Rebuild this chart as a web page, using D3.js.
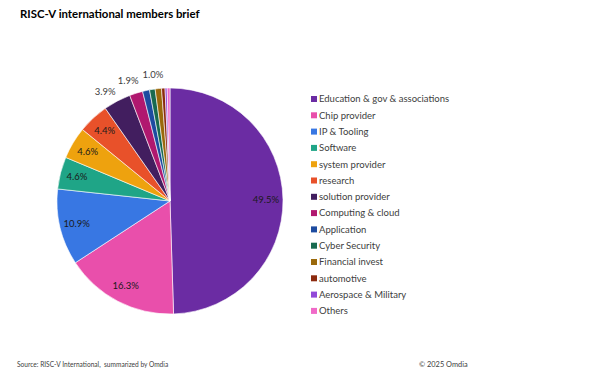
<!DOCTYPE html>
<html>
<head>
<meta charset="utf-8">
<script src="https://cdn.jsdelivr.net/npm/d3@7"></script>
<style>
  body { margin: 0; background: #fff; }
  svg { display: block; font-family: Lato, "Open Sans", sans-serif; }
</style>
</head>
<body>
<svg></svg>
<script>
// Chart size
const width = 615;
const height = 382;

// Data (percent of members)
const categories = [
  "Education & gov & associations", "Chip provider", "IP & Tooling", "Software",
  "system provider", "research", "solution provider", "Computing & cloud",
  "Application", "Cyber Security", "Financial invest", "automotive",
  "Aerospace & Military", "Others"
];
const shares = [49.5, 16.3, 10.9, 4.6, 4.6, 4.4, 3.9, 1.9, 1.0, 0.8, 0.9, 0.5, 0.3, 0.4];
const colors = [
  "#6b2ca3", "#e94fab", "#3877e3", "#1fa587", "#eea20e", "#e8512a", "#421e5f",
  "#b0186f", "#1d4ba0", "#186a50", "#9a690c", "#8c2a0f", "#9249d8", "#f06ac8"
];

const svg = d3.select("svg")
  .attr("width", width)
  .attr("height", height);

// Title
svg.append("text")
  .attr("x", 20)
  .attr("y", 18)
  .style("font-size", "11.4px")
  .style("font-weight", "bold")
  .attr("fill", "#000")
  .text("RISC-V international members brief");

// Pie
const cx = 170, cy = 201, radius = 113;
const pie = d3.pie().sort(null).value(d => d);
const arcs = pie(shares);
const arc = d3.arc().innerRadius(0).outerRadius(radius);

const g = svg.append("g").attr("transform", `translate(${cx},${cy})`);

g.selectAll("path")
  .data(arcs)
  .join("path")
  .attr("d", arc)
  .attr("fill", (d, i) => colors[i])
  .attr("stroke", "#fff")
  .attr("stroke-width", 0.6);

// Data labels: big slices inside, small ones outside
const labelled = arcs.filter(d => d.data >= 1.0);
labelled.forEach(d => {
  d.inside = d.data >= 4.4;
  d.labelAngle = (d.startAngle + d.endAngle) / 2;
});

// spread the outside labels apart so they don't collide
const outside = labelled.filter(d => !d.inside);
const minSep = 11.5 * Math.PI / 180;
for (let k = 0; k < 100; k++) {
  for (let i = 0; i < outside.length - 1; i++) {
    const gap = outside[i + 1].labelAngle - outside[i].labelAngle;
    if (gap < minSep) {
      const push = (minSep - gap) / 2;
      outside[i].labelAngle -= push;
      outside[i + 1].labelAngle += push;
    }
  }
}

g.selectAll("text.lbl")
  .data(labelled)
  .join("text")
  .attr("class", "lbl")
  .attr("text-anchor", "middle")
  .attr("dy", "0.35em")
  .style("font-size", "9.5px")
  .attr("fill", d => d.inside ? "#1a1a1a" : "#404040")
  .attr("transform", d => {
    const a = d.labelAngle;
    const r = d.inside ? radius * 0.85 : radius + 14;
    return `translate(${Math.sin(a) * r},${-Math.cos(a) * r})`;
  })
  .text(d => d.data.toFixed(1) + "%");

// Legend
const legendX = 311, legendY = 99, legendStep = 16.3, sq = 6;
const legend = svg.append("g")
  .selectAll("g")
  .data(categories)
  .join("g")
  .attr("transform", (d, i) => `translate(${legendX},${legendY + i * legendStep})`);

legend.append("rect")
  .attr("x", 0)
  .attr("y", -sq / 2)
  .attr("width", sq)
  .attr("height", sq)
  .attr("fill", (d, i) => colors[i]);

legend.append("text")
  .attr("x", 8)
  .attr("dy", "0.35em")
  .style("font-size", "9.5px")
  .attr("fill", "#404040")
  .text(d => d);

// Footer
svg.append("text")
  .attr("x", 17)
  .attr("y", 367)
  .style("font-size", "6.6px")
  .style("white-space", "pre")
  .attr("fill", "#404040")
  .text("Source: RISC-V International,  summarized by Omdia");

svg.append("text")
  .attr("x", 419)
  .attr("y", 367)
  .style("font-size", "7.4px")
  .attr("fill", "#404040")
  .text("© 2025 Omdia");
</script>
</body>
</html>
